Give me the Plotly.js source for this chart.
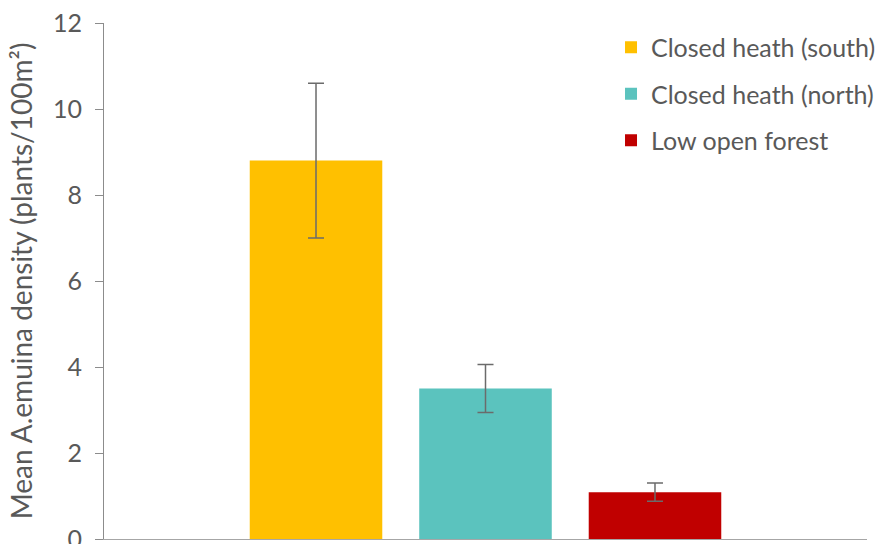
<!DOCTYPE html>
<html>
<head>
<meta charset="utf-8">
<script src="https://cdn.plot.ly/plotly-3.0.1.min.js"></script>
<style>html,body{margin:0;padding:0;background:#fff;}#chart{width:882px;height:544px;}</style>
</head>
<body>
<div id="chart"></div>
<script>
const seriesNames = ["Closed heath (south)", "Closed heath (north)", "Low open forest"];
const meanDensity = [8.8, 3.5, 1.09];
const errorValues = [1.8, 0.56, 0.21];
const barColors = ["#FFC000", "#5BC3BE", "#C00000"];
const yTicks = [0, 2, 4, 6, 8, 10, 12];

const traces = seriesNames.map((name, i) => ({
  type: "bar",
  name: name,
  x: [""],
  y: [meanDensity[i]],
  legendgroup: "g" + i,
  marker: {color: barColors[i]},
  error_y: {type: "data", array: [errorValues[i]], visible: true, color: "#6b6b6b", thickness: 1.5, width: 8},
  hoverinfo: "y"
}));

const layout = {
  width: 882, height: 544,
  margin: {l: 104, r: 15, t: 23, b: 5, autoexpand: false},
  paper_bgcolor: "#fff", plot_bgcolor: "#fff",
  font: {family: "Lato, 'Open Sans', sans-serif", color: "#595959", size: 24},
  barmode: "group",
  bargap: 0.3336,
  bargroupgap: 0.218,
  showlegend: true,
  legend: {x: 0.6645, xanchor: "left", y: 0.997, yanchor: "top", xref: "paper", yref: "paper",
           font: {size: 25, color: "#595959"}, tracegroupgap: 11, bgcolor: "rgba(0,0,0,0)"},
  xaxis: {showline: true, linecolor: "#a6a6a6", linewidth: 1, showticklabels: false, ticks: "", showgrid: false, zeroline: false, fixedrange: true},
  yaxis: {range: [0, 12], tickvals: yTicks, ticktext: yTicks.map(String), showline: true, linecolor: "#8c8c8c", linewidth: 1,
          ticks: "outside", ticklen: 8, tickcolor: "#8c8c8c", showgrid: false, zeroline: false,
          ticklabeloverflow: "allow", ticklabelstandoff: 8,
          tickfont: {size: 25, color: "#595959"},
          title: {text: "Mean A.emuina density (plants/100m²)", font: {size: 28, color: "#595959"}, standoff: 12}}
};

Plotly.newPlot("chart", traces, layout, {displayModeBar: false, staticPlot: true});
</script>
</body>
</html>
